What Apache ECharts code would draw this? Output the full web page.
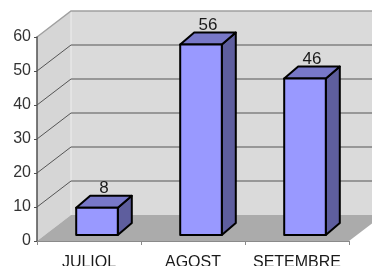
<!DOCTYPE html>
<html>
<head>
<meta charset="utf-8">
<script src="https://cdn.jsdelivr.net/npm/echarts@6/dist/echarts.min.js"></script>
<style>
  html, body { margin: 0; padding: 0; background: #fff; }
  #chart { width: 372px; height: 266px; }
</style>
</head>
<body>
<div id="chart"></div>
<script>
var categories = ['JULIOL', 'AGOST', 'SETEMBRE'];
var values = [8, 56, 46];
var yTicks = [0, 10, 20, 30, 40, 50, 60];

// depth offsets (pixels) for the fake 3d look
var WALL_DX = 34, WALL_DY = -26;
var BAR_SHIFT_X = 8, BAR_SHIFT_Y = -6;
var BAR_DX = 14, BAR_DY = -12;

var myChart = echarts.init(document.getElementById('chart'));

function renderWalls(params, api) {
	var cs = params.coordSys;
	var left = cs.x, right = cs.x + cs.width;
	var y0 = api.coord([0, 0])[1];
	var yTop = api.coord([0, yTicks[yTicks.length - 1]])[1];
	var farRight = right + WALL_DX + 60;
	var children = [];

	// back wall
	children.push({
		type: 'polygon',
		shape: { points: [[left + WALL_DX, yTop + WALL_DY], [farRight, yTop + WALL_DY],
			[farRight, y0 + WALL_DY], [left + WALL_DX, y0 + WALL_DY]] },
		style: { fill: '#dadada' }
	});
	// left wall
	children.push({
		type: 'polygon',
		shape: { points: [[left, yTop], [left + WALL_DX, yTop + WALL_DY],
			[left + WALL_DX, y0 + WALL_DY], [left, y0]] },
		style: { fill: '#d6d6d6' }
	});
	// back corner edge
	children.push({
		type: 'line',
		shape: { x1: left + WALL_DX, y1: yTop + WALL_DY, x2: left + WALL_DX, y2: y0 + WALL_DY },
		style: { stroke: '#eeeeee', lineWidth: 1 }
	});
	// grid lines
	for (var i = 1; i < yTicks.length; i++) {
		var yv = api.coord([0, yTicks[i]])[1];
		var top = i === yTicks.length - 1;
		children.push({
			type: 'polyline',
			shape: { points: [[left, yv], [left + WALL_DX, yv + WALL_DY], [farRight, yv + WALL_DY]] },
			style: { stroke: top ? '#a0a0a0' : '#555555', lineWidth: top ? 1.5 : 1, fill: null }
		});
	}
	// floor
	children.push({
		type: 'polygon',
		shape: { points: [[left, y0], [right, y0], [right + WALL_DX, y0 + WALL_DY], [left + WALL_DX, y0 + WALL_DY]] },
		style: { fill: '#ababab' }
	});
	return { type: 'group', children: children };
}

function renderBar(params, api) {
	var idx = api.value(0);
	var val = api.value(1);
	var top = api.coord([idx, val]);
	var base = api.coord([idx, 0]);
	var w = api.size([1, 0])[0] * 0.4;
	var x0 = top[0] - w / 2 + BAR_SHIFT_X;
	var x1 = x0 + w;
	var yT = top[1] + BAR_SHIFT_Y;
	var yB = base[1] + BAR_SHIFT_Y;
	var edge = { stroke: '#000', lineWidth: 2, lineJoin: 'round' };

	return {
		type: 'group',
		children: [
			{
				type: 'polygon',
				shape: { points: [[x1, yT], [x1 + BAR_DX, yT + BAR_DY], [x1 + BAR_DX, yB + BAR_DY], [x1, yB]] },
				style: Object.assign({ fill: '#5e5e9e' }, edge)
			},
			{
				type: 'polygon',
				shape: { points: [[x0, yT], [x0 + BAR_DX, yT + BAR_DY], [x1 + BAR_DX, yT + BAR_DY], [x1, yT]] },
				style: Object.assign({ fill: '#7878c8' }, edge)
			},
			{
				type: 'rect',
				shape: { x: x0, y: yT, width: w, height: yB - yT },
				style: Object.assign({ fill: '#9999ff' }, edge)
			},
			{
				type: 'text',
				style: {
					text: String(val),
					x: (x0 + x1) / 2 + BAR_DX / 2,
					y: yT + BAR_DY + 1,
					align: 'center',
					verticalAlign: 'bottom',
					fontSize: 17,
					fontFamily: 'Liberation Sans',
					fill: '#1a1a1a'
				}
			}
		]
	};
}

var barData = [];
for (var i = 0; i < values.length; i++) {
	barData.push([i, values[i]]);
}

var chartOption = {
	backgroundColor: '#ffffff',
	animation: false,
	grid: { left: 37, right: 23, top: 37, bottom: 25, containLabel: false, outerBoundsMode: 'none' },
	xAxis: {
		type: 'category',
		data: categories,
		axisLine: { lineStyle: { color: '#8a8a8a', width: 1 } },
		axisTick: { show: true, length: 4, lineStyle: { color: '#8a8a8a' } },
		axisLabel: { interval: 0, margin: 14, fontSize: 16, fontFamily: 'Liberation Sans', color: '#1a1a1a' },
		splitLine: { show: false },
		z: 5
	},
	yAxis: {
		type: 'value',
		min: 0,
		max: 60,
		interval: 10,
		axisLine: { show: true, lineStyle: { color: '#505050', width: 1.5 } },
		axisTick: { show: true, length: 3, lineStyle: { color: '#505050' } },
		axisLabel: { margin: 6, fontSize: 16, fontFamily: 'Liberation Sans', color: '#333' },
		splitLine: { show: false },
		z: 5
	},
	series: [
		{
			type: 'custom',
			z: 1,
			silent: true,
			clip: false,
			data: [[0, 0]],
			renderItem: renderWalls
		},
		{
			type: 'custom',
			z: 3,
			clip: false,
			data: barData,
			encode: { x: 0, y: 1 },
			renderItem: renderBar
		}
	]
};

myChart.setOption(chartOption);
</script>
</body>
</html>
